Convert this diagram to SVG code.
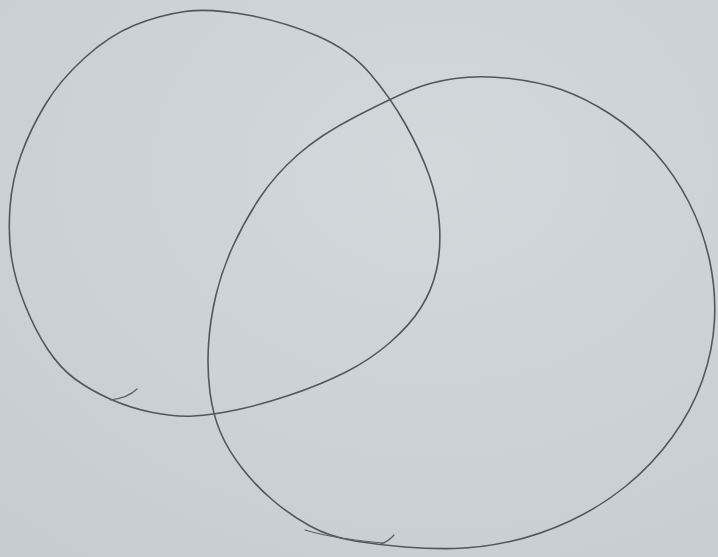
<svg xmlns="http://www.w3.org/2000/svg" width="718" height="557" viewBox="0 0 718 557">
<defs>
<radialGradient id="paper" cx="0.6" cy="0.3" r="0.9">
<stop offset="0" stop-color="#d3d8db"/>
<stop offset="1" stop-color="#c6ccd0"/>
</radialGradient>
<style>
.pen{fill:none;stroke:#51575c;stroke-width:1.6;stroke-linecap:round;stroke-linejoin:round}
.thin{fill:none;stroke:#5a6065;stroke-width:1.2;stroke-linecap:round}
</style>
</defs>
<rect width="718" height="557" fill="url(#paper)"/>
<g id="left-circle">
<path class="pen" d="M185,11.5 Q210,8 247.5,15 Q285,22 317.5,36 Q350,50 370,73.5 Q390,97 405,123.5 Q420,150 429,175 Q438,200 439.5,225 Q441,250 436.5,270 Q432,290 421,307.5 Q410,325 390,342.5 Q370,360 345,372.5 Q320,385 290,395 Q260,405 236,410 Q212,415 193.5,416 Q175,417 152.5,412.5 Q130,408 110,399 Q90,390 75,379 Q60,368 47.5,349 Q35,330 25,305 Q15,280 11.5,257.5 Q8,235 10,207.5 Q12,180 21,155 Q30,130 45,105 Q60,80 85,57.5 Q110,35 135,25 Q160,15 185,11.5 Z"/>
<path class="thin" d="M110,400 Q128,398 137,389"/>
</g>
<g id="right-circle">
<path class="pen" d="M455,78.5 Q480,75 510,78.5 Q540,82 562.5,90 Q585,98 610,114 Q635,130 655,152.5 Q675,175 689,202.5 Q703,230 709.5,260 Q716,290 714.5,320 Q713,350 702.5,380 Q692,410 672,437.5 Q652,465 626,486 Q600,507 570,521 Q540,535 510,541.5 Q480,548 455,548.5 Q430,549 405,547 Q380,545 355,541 Q330,537 310,526 Q290,515 272.5,500 Q255,485 241.5,467.5 Q228,450 220.5,432.5 Q213,415 210,392.5 Q207,370 208.5,345 Q210,320 216,295 Q222,270 233.5,245 Q245,220 260,197.5 Q275,175 297.5,155 Q320,135 355,117 Q390,99 410,90.5 Q430,82 455,78.5 Z"/>
<path class="thin" d="M305,530 Q335,539 384,543"/>
<path class="thin" d="M381,544 Q389,541 394,535"/>
</g>
</svg>
